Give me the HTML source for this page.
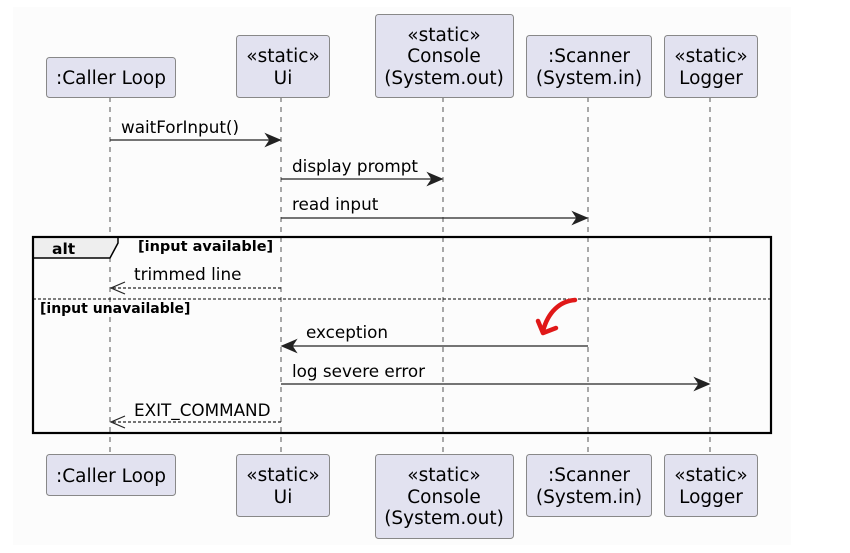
<!DOCTYPE html>
<html><head><meta charset="utf-8"><style>
html,body{margin:0;padding:0;background:#fff;width:850px;height:553px;overflow:hidden}
svg text{font-family:"DejaVu Sans","Liberation Sans",sans-serif;fill:#000}
</style></head><body>
<svg width="850" height="553" xmlns="http://www.w3.org/2000/svg">
<rect x="13" y="7" width="778" height="538" fill="#fcfcfc"/>
<g stroke="#555" stroke-width="1" stroke-dasharray="5,5">
<line x1="110" y1="97" x2="110" y2="455"/>
<line x1="281" y1="97" x2="281" y2="455"/>
<line x1="443" y1="97" x2="443" y2="455"/>
<line x1="588" y1="97" x2="588" y2="455"/>
<line x1="710" y1="97" x2="710" y2="455"/>
</g>
<g fill="#e2e2f0" stroke="#888" stroke-width="1">
<rect x="46.5" y="57.5" width="129" height="40" rx="3"/>
<rect x="236.5" y="35.5" width="93" height="62" rx="3"/>
<rect x="375.5" y="14.5" width="138" height="83" rx="3"/>
<rect x="526.5" y="35.5" width="125" height="62" rx="3"/>
<rect x="664.5" y="35.5" width="93" height="62" rx="3"/>
<rect x="46.5" y="454.5" width="129" height="41" rx="3"/>
<rect x="236.5" y="454.5" width="93" height="62" rx="3"/>
<rect x="375.5" y="454.5" width="138" height="84" rx="3"/>
<rect x="526.5" y="454.5" width="125" height="62" rx="3"/>
<rect x="664.5" y="454.5" width="93" height="62" rx="3"/>
</g>
<g font-size="18.5" text-anchor="middle">
<text x="111" y="84">:Caller Loop</text>
<text x="283" y="62">«static»</text><text x="283" y="84">Ui</text>
<text x="444" y="41">«static»</text><text x="444" y="62">Console</text><text x="444" y="84">(System.out)</text>
<text x="589" y="62">:Scanner</text><text x="589" y="84">(System.in)</text>
<text x="711" y="62">«static»</text><text x="711" y="84">Logger</text>
<text x="111" y="482">:Caller Loop</text>
<text x="283" y="481">«static»</text><text x="283" y="503">Ui</text>
<text x="444" y="481">«static»</text><text x="444" y="503">Console</text><text x="444" y="524">(System.out)</text>
<text x="589" y="481">:Scanner</text><text x="589" y="503">(System.in)</text>
<text x="711" y="481">«static»</text><text x="711" y="503">Logger</text>
</g>
<path d="M33,237 H118 V243 L110,258 H33 Z" fill="#eee" stroke="#000" stroke-width="1.5"/>
<rect x="33" y="237" width="738" height="196" fill="none" stroke="#000" stroke-width="2.2"/>
<line x1="33" y1="299" x2="771" y2="299" stroke="#000" stroke-width="1" stroke-dasharray="3,2"/>
<text x="52" y="254" font-size="15.5" font-weight="bold">alt</text>
<text x="138" y="251" font-size="14.5" font-weight="bold">[input available]</text>
<text x="40" y="313" font-size="14" font-weight="bold">[input unavailable]</text>
<g stroke="#222" stroke-width="1.2" fill="none">
<line x1="110" y1="140" x2="280" y2="140"/><path d="M266,134 L280,140 L266,146 L270,140 Z" fill="#222"/>
<line x1="281" y1="179" x2="442" y2="179"/><path d="M428,173 L442,179 L428,185 L432,179 Z" fill="#222"/>
<line x1="281" y1="218" x2="587" y2="218"/><path d="M573,212 L587,218 L573,224 L577,218 Z" fill="#222"/>
<line x1="281" y1="288" x2="112" y2="288" stroke-dasharray="3,2"/><path d="M125,282 L111,288 L125,294" />
<line x1="588" y1="346" x2="283" y2="346"/><path d="M296,340 L282,346 L296,352 L292,346 Z" fill="#222"/>
<line x1="281" y1="384" x2="709" y2="384"/><path d="M695,378 L709,384 L695,390 L699,384 Z" fill="#222"/>
<line x1="281" y1="422" x2="112" y2="422" stroke-dasharray="3,2"/><path d="M125,416 L111,422 L125,428" />
</g>
<g font-size="16.8">
<text x="121" y="133">waitForInput()</text>
<text x="292" y="172">display prompt</text>
<text x="292" y="210">read input</text>
<text x="134" y="280">trimmed line</text>
<text x="306" y="338">exception</text>
<text x="292" y="377">log severe error</text>
<text x="134" y="416">EXIT_COMMAND</text>
</g>
<g stroke="#e01818" stroke-width="4.5" fill="none" stroke-linecap="round" stroke-linejoin="round">
<path d="M575,300 C560,301 548,312 543,331"/>
<path d="M538,321 L543,333 L556,328"/>
</g>
</svg>
</body></html>
